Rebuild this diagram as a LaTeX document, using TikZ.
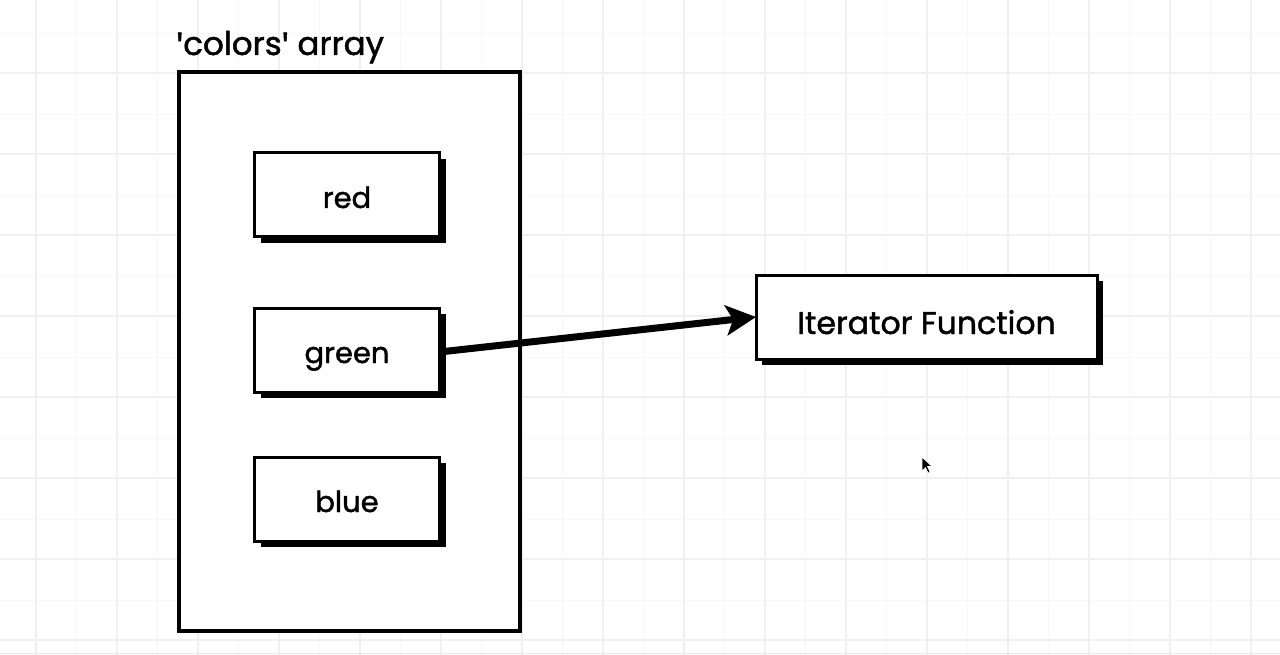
\documentclass[tikz,border=0pt]{standalone}
\usepackage{fontspec}
\setmainfont{Poppins}[FakeBold=1.4]
\newfontfamily\quotefont{Fira Sans}[FakeBold=1.4]
\newcommand\sq{{\quotefont\symbol{39}}}
\usetikzlibrary{arrows.meta,shadows}
\definecolor{gridmajor}{RGB}{240,240,240}
\definecolor{gridminor}{RGB}{248,248,248}
\begin{document}
\begin{tikzpicture}[x=1pt,y=-1pt,
  item/.style={draw=black,line width=3pt,fill=white,inner sep=0pt,outer sep=0pt,
    minimum width=185pt,minimum height=84pt,font=\fontsize{29}{32}\selectfont,
    text height=28pt,text depth=2pt,
    drop shadow={shadow xshift=6pt,shadow yshift=-6pt,fill=black,opacity=1}},
  bigitem/.style={item,minimum width=341pt,font=\fontsize{31.5}{34}\selectfont,
    text height=36pt,text depth=2pt},
  container/.style={draw=black,line width=4pt,fill=white},
  connector/.style={line width=7pt,-{Stealth[length=30pt,width=30pt,inset=7pt]}},
  title/.style={anchor=base west,inner sep=0pt,font=\fontsize{32.5}{36}\selectfont},
]
\useasboundingbox (0,0) rectangle (1280,655);
\fill[white] (0,0) rectangle (1280,655);
% grid
\foreach \i in {0,...,31} {
  \draw[gridminor,line width=0.9pt] ({-4.5+40.5*\i},0) -- ({-4.5+40.5*\i},655);
}
\foreach \i in {0,...,16} {
  \draw[gridminor,line width=0.9pt] (0,{-7.5+40.5*\i}) -- (1280,{-7.5+40.5*\i});
}
\foreach \i in {0,...,15} {
  \draw[gridmajor,line width=1.1pt] ({36+81*\i},0) -- ({36+81*\i},655);
}
\foreach \i in {0,...,7} {
  \draw[gridmajor,line width=1.1pt] (0,{73+81*\i}) -- (1280,{73+81*\i});
}
\draw[gray!18,line width=1pt] (0,653) -- (1280,653);

% container
\draw[container] (178.5,72) rectangle (519.5,630.5);
\node[title] (ttl) at (176,55) {\sq colors\sq{} array};

% items
\node[item] (red) at (347,195) {red};
\node[item] (green) at (347,350) {green};
\node[item] (blue) at (347,499) {blue};
\node[bigitem] (iter) at (926.5,317) {Iterator Function};

% connector
\draw[connector] (green.east) ++(0,2) coordinate (gs) (gs) -- (iter.west);

% mouse cursor
\fill[black,draw=white,line width=0.6pt] (922,457) -- (922,471) -- (925.5,467.5) -- (928,473) -- (930,472) -- (927.5,466.5) -- (932,466.5) -- cycle;
\end{tikzpicture}
\end{document}
